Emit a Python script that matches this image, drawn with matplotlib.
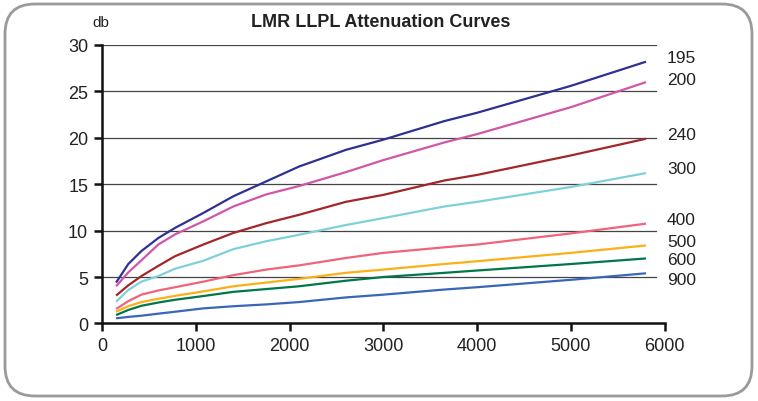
import matplotlib.pyplot as plt
from matplotlib.patches import FancyBboxPatch

plt.rcParams["font.family"] = ["Liberation Sans", "DejaVu Sans"]

# cable types (label at right end of each curve)
cables = ["195", "200", "240", "300", "400", "500", "600", "900"]

freq = [150, 280, 420, 600, 780, 1080, 1400, 1750, 2100, 2600, 3000, 3650, 4000, 5000, 5800]

att_195 = [4.4, 6.4, 7.8, 9.2, 10.3, 11.9, 13.7, 15.3, 16.9, 18.7, 19.8, 21.8, 22.7, 25.6, 28.2]
att_200 = [4.0, 5.5, 6.8, 8.5, 9.6, 11.0, 12.6, 13.9, 14.8, 16.3, 17.6, 19.5, 20.4, 23.3, 26.0]
att_240 = [3.0, 4.1, 5.1, 6.2, 7.25, 8.5, 9.75, 10.8, 11.7, 13.1, 13.85, 15.4, 16.0, 18.1, 19.9]
att_300 = [2.33, 3.6, 4.5, 5.1, 5.9, 6.75, 8.0, 8.85, 9.55, 10.6, 11.35, 12.6, 13.1, 14.7, 16.2]
att_400 = [1.55, 2.4, 3.1, 3.55, 3.9, 4.5, 5.2, 5.8, 6.25, 7.05, 7.6, 8.2, 8.5, 9.7, 10.75]
att_500 = [1.26, 1.85, 2.3, 2.65, 2.97, 3.45, 4.0, 4.4, 4.8, 5.45, 5.8, 6.4, 6.7, 7.6, 8.4]
att_600 = [0.9, 1.45, 1.9, 2.25, 2.55, 2.95, 3.4, 3.7, 4.0, 4.6, 5.0, 5.45, 5.7, 6.4, 7.0]
att_900 = [0.55, 0.7, 0.83, 1.05, 1.26, 1.62, 1.85, 2.05, 2.3, 2.8, 3.1, 3.65, 3.9, 4.7, 5.4]

series = [att_195, att_200, att_240, att_300, att_400, att_500, att_600, att_900]
colors = ["#2e3192", "#d057a8", "#a3262a", "#7fd0d8",
          "#f0647a", "#fbb017", "#00774a", "#3a66b8"]
# where the right-hand labels sit (db)
label_y = [28.7, 26.3, 20.4, 16.7, 11.2, 8.8, 6.9, 4.75]

fig = plt.figure(figsize=(7.58, 4.02), dpi=100)
fig.patches.append(FancyBboxPatch((0.05, 0.05), 7.47, 3.92,
                                  boxstyle="round,pad=0,rounding_size=0.3",
                                  transform=fig.dpi_scale_trans, zorder=-5,
                                  facecolor="white", edgecolor="#9a9a9a", lw=2))
ax = fig.add_axes([0.1346, 0.193, 0.7424, 0.6926])
ax.patch.set_alpha(0)

ax.set_xlim(0, 6000)
ax.set_ylim(0, 30)
ax.set_xticks(range(0, 6001, 1000))
ax.set_yticks(range(0, 31, 5))

# gridlines stop a little short of the axis end
for y in ax.get_yticks()[1:]:
    ax.axhline(y, xmax=0.985, color="#444444", lw=0.9, zorder=0)

for vals, c in zip(series, colors):
    ax.plot(freq, vals, color=c, lw=1.6, solid_capstyle="butt", zorder=2)

for name, y in zip(cables, label_y):
    ax.text(1.004, y, name, transform=ax.get_yaxis_transform(),
            fontsize=12.5, color="#222222", va="center", ha="left")

for s in ("top", "right"):
    ax.spines[s].set_visible(False)
for s in ("left", "bottom"):
    ax.spines[s].set_linewidth(1.8)
    ax.spines[s].set_color("#111111")
ax.tick_params(length=6, width=1.8, labelsize=13, colors="#111111",
               labelcolor="#222222", pad=4)

fig.text(0.502, 0.943, "LMR LLPL Attenuation Curves", ha="center", va="center",
         fontsize=13, fontweight="bold", color="#222222")
fig.text(0.133, 0.943, "db", ha="center", va="center", fontsize=11, color="#222222")

fig.savefig("out.png", dpi=100)
